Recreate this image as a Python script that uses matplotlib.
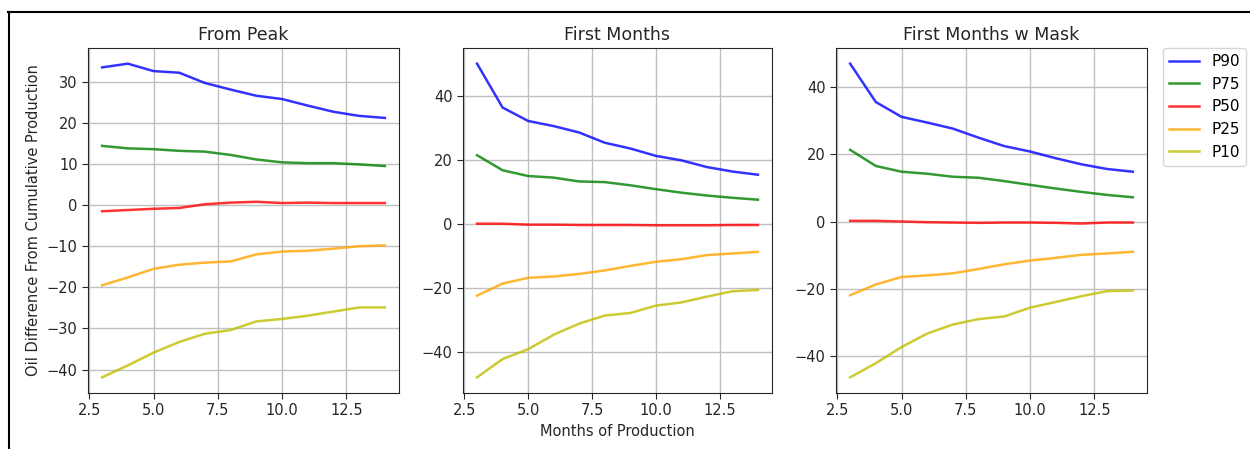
import numpy as np
import matplotlib
matplotlib.use("Agg")
import matplotlib.pyplot as plt
from matplotlib.lines import Line2D
from matplotlib.ticker import MultipleLocator, FormatStrFormatter

months = [3.0, 4.0, 5.0, 6.0, 7.0, 8.0, 9.0, 10.0, 11.0, 12.0, 13.0, 14.0]
labels = ["P90", "P75", "P50", "P25", "P10"]
colors = ["b", "g", "r", "orange", "y"]

# From Peak
peak_p90 = [33.5, 34.4, 32.6, 32.2, 29.7, 28.1, 26.6, 25.8, 24.2, 22.7, 21.7, 21.2]
peak_p75 = [14.4, 13.8, 13.6, 13.2, 13.0, 12.2, 11.1, 10.4, 10.2, 10.2, 9.9, 9.5]
peak_p50 = [-1.5, -1.2, -0.9, -0.7, 0.2, 0.6, 0.8, 0.5, 0.6, 0.5, 0.5, 0.5]
peak_p25 = [-19.5, -17.6, -15.5, -14.5, -14.0, -13.7, -12.0, -11.3, -11.1, -10.6, -10.0, -9.8]
peak_p10 = [-41.9, -39.0, -35.9, -33.3, -31.3, -30.4, -28.3, -27.7, -26.9, -25.9, -24.9, -24.9]

# First Months
first_p90 = [50.2, 36.5, 32.3, 30.7, 28.7, 25.5, 23.7, 21.4, 20.0, 17.9, 16.5, 15.5]
first_p75 = [21.6, 16.9, 15.1, 14.6, 13.4, 13.2, 12.2, 11.0, 9.9, 9.0, 8.3, 7.7]
first_p50 = [0.2, 0.2, -0.1, -0.1, -0.2, -0.2, -0.2, -0.3, -0.3, -0.3, -0.2, -0.2]
first_p25 = [-22.3, -18.5, -16.7, -16.3, -15.5, -14.4, -13.0, -11.7, -10.9, -9.6, -9.1, -8.6]
first_p10 = [-47.8, -42.1, -39.0, -34.5, -31.0, -28.5, -27.7, -25.4, -24.4, -22.6, -20.9, -20.5]

# First Months w Mask
mask_p90 = [46.9, 35.5, 31.1, 29.4, 27.6, 24.9, 22.4, 20.8, 18.8, 17.0, 15.6, 14.8]
mask_p75 = [21.3, 16.5, 14.8, 14.2, 13.3, 13.0, 12.0, 10.9, 9.8, 8.8, 7.9, 7.2]
mask_p50 = [0.2, 0.2, 0.0, -0.2, -0.3, -0.4, -0.3, -0.3, -0.4, -0.6, -0.3, -0.3]
mask_p25 = [-21.9, -18.7, -16.5, -16.0, -15.4, -14.1, -12.7, -11.6, -10.8, -9.9, -9.5, -9.0]
mask_p10 = [-46.3, -42.1, -37.3, -33.3, -30.6, -29.0, -28.2, -25.6, -23.9, -22.2, -20.7, -20.5]

panels = [
    ("From Peak", [peak_p90, peak_p75, peak_p50, peak_p25, peak_p10]),
    ("First Months", [first_p90, first_p75, first_p50, first_p25, first_p10]),
    ("First Months w Mask", [mask_p90, mask_p75, mask_p50, mask_p25, mask_p10]),
]

plt.rcParams['font.family'] = 'DejaVu Sans'
fig = plt.figure(figsize=(12.5, 4.49), dpi=100)
lefts = [0.0704, 0.3704, 0.6688]
widths = [0.2488, 0.2472, 0.2488]

axes = []
for (title, series), left, w in zip(panels, lefts, widths):
    ax = fig.add_axes([left, 0.1247, w, 0.7684])
    for vals, lab, c in zip(series, labels, colors):
        ax.plot(months, vals, color=c, alpha=0.8, lw=1.8, label=lab)
    ax.set_title(title, fontsize=12.5, color='#262626')
    ax.xaxis.set_major_locator(MultipleLocator(2.5))
    ax.xaxis.set_major_formatter(FormatStrFormatter('%.1f'))
    ax.grid(True, color='#c0c0c0', lw=1.0)
    ax.tick_params(labelsize=10.5, colors='#262626', length=4)
    for s in ax.spines.values():
        s.set_color('#262626')
    axes.append(ax)

axes[0].set_ylabel('Oil Difference From Cumulative Production', fontsize=10.5, color='#262626')
axes[1].set_xlabel('Months of Production', fontsize=10.5, color='#262626')
axes[2].legend(bbox_to_anchor=(1.05, 1), loc=2, borderaxespad=0., fontsize=11)

# screenshot frame
fig.add_artist(Line2D([0.0064, 1.0], [0.9722, 0.9722], color='black', lw=1.5, transform=fig.transFigure))
fig.add_artist(Line2D([0.0068, 0.0068], [0.0, 0.9722], color='black', lw=1.5, transform=fig.transFigure))

fig.savefig('out.png', dpi=100)
